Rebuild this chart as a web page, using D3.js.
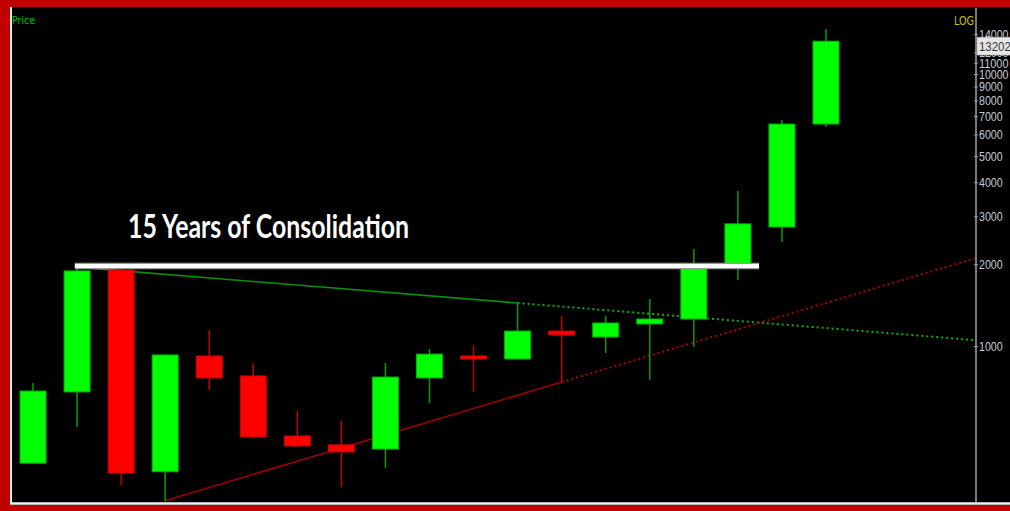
<!DOCTYPE html>
<html>
<head>
<meta charset="utf-8">
<script src="https://cdn.jsdelivr.net/npm/d3@7"></script>
<style>
  html, body { margin: 0; padding: 0; background: #000; }
  svg { display: block; }
</style>
</head>
<body>
<svg id="chart" width="1010" height="511"></svg>
<script>
// ---- data ----
const periods = [1,2,3,4,5,6,7,8,9,10,11,12,13,14,15,16,17,18,19];
const opens  = [371, 678, 1900, 345, 919, 776, 467, 433, 418, 763, 919, 896, 1135, 1079, 1205, 1257, 1985, 2738, 6547];
const highs  = [731, 1950, 1950, 935, 1145, 866, 577, 530, 866, 975, 1008, 1439, 1289, 1289, 1488, 2275, 3717, 6777, 14620];
const lows   = [371, 504, 308, 268, 689, 455, 425, 303, 356, 617, 678, 896, 737, 943, 750, 992, 1749, 2410, 6380];
const closes = [683, 1888, 341, 927, 763, 463, 429, 408, 769, 934, 896, 1135, 1098, 1215, 1257, 1967, 2812, 6547, 13202];
const tickValues = [1000, 2000, 3000, 4000, 5000, 6000, 7000, 8000, 9000, 10000, 11000, 12000, 14000];
const lastPrice = 13202;
// trend lines: [period index, price]
const consolidationLine = [[0.95, 1967], [16.48, 1967]];
const resistanceSolid = [[1, 1950], [11, 1439]];
const resistanceDotted = [[11, 1439], [21.4, 1050]];
const supportSolid = [[3, 270], [12, 737]];
const supportDotted = [[12, 737], [21.4, 2104]];
const annotation = "15 Years of Consolidation";

// ---- layout ----
const svg = d3.select("#chart");
const W = 1010, H = 511;
const plot = {left: 12, right: 976, top: 8, bottom: 502};

const x = d3.scaleLinear().domain([0, periods.length - 1]).range([33, 826]);
const y = d3.scaleLog().domain([267, 17480]).range([plot.bottom, plot.top]);

// background
svg.append("rect").attr("width", W).attr("height", H).attr("fill", "#000");

// frame: red border with white inner line
svg.append("rect").attr("x", 0).attr("y", 0).attr("width", W).attr("height", 7).attr("fill", "#c00000");
svg.append("rect").attr("x", 0).attr("y", 0).attr("width", 10).attr("height", H).attr("fill", "#c00000");
svg.append("rect").attr("x", 0).attr("y", 505).attr("width", W).attr("height", 6).attr("fill", "#c00000");
svg.append("line").attr("x1", 11).attr("x2", 11).attr("y1", 7).attr("y2", 504)
  .attr("stroke", "#f0f0f0").attr("stroke-width", 2);
svg.append("line").attr("x1", 10).attr("x2", W).attr("y1", 503.5).attr("y2", 503.5)
  .attr("stroke", "#f0f0f0").attr("stroke-width", 2.5);

svg.append("defs").append("clipPath").attr("id", "clip")
  .append("rect").attr("x", plot.left).attr("y", plot.top)
  .attr("width", plot.right - plot.left).attr("height", plot.bottom - plot.top);

const g = svg.append("g").attr("clip-path", "url(#clip)");

const candles = periods.map((p, i) => ({i, o: opens[i], h: highs[i], l: lows[i], c: closes[i]}));
const bw = 26;

// trend lines (behind candles)
const line = d3.line().x(d => x(d[0])).y(d => y(d[1]));
g.append("path").attr("d", line(resistanceSolid)).attr("fill", "none")
  .attr("stroke", "#0d8f0d").attr("stroke-width", 1.6);
g.append("path").attr("d", line(resistanceDotted)).attr("fill", "none")
  .attr("stroke", "#0db00d").attr("stroke-width", 2).attr("stroke-dasharray", "2,3");
g.append("path").attr("d", line(supportSolid)).attr("fill", "none")
  .attr("stroke", "#a00000").attr("stroke-width", 1.6);
g.append("path").attr("d", line(supportDotted)).attr("fill", "none")
  .attr("stroke", "#b00000").attr("stroke-width", 2).attr("stroke-dasharray", "2,3");

// wicks
g.selectAll("line.wick").data(candles).enter().append("line")
  .attr("class", "wick")
  .attr("x1", d => x(d.i)).attr("x2", d => x(d.i))
  .attr("y1", d => y(d.h)).attr("y2", d => y(d.l))
  .attr("stroke", d => d.c >= d.o ? "#0a9a0a" : "#c00000")
  .attr("stroke-width", 1.5);

// bodies
g.selectAll("rect.body").data(candles).enter().append("rect")
  .attr("class", "body")
  .attr("x", d => x(d.i) - bw / 2)
  .attr("width", bw)
  .attr("y", d => y(Math.max(d.o, d.c)))
  .attr("height", d => Math.max(3, Math.abs(y(d.o) - y(d.c))))
  .attr("fill", d => d.c >= d.o ? "#00ff00" : "#ff0000")
  .attr("stroke", d => d.c >= d.o ? "#00b000" : "#cc0000")
  .attr("stroke-width", 1);

// consolidation line (white, on top)
g.append("path").attr("d", line(consolidationLine)).attr("fill", "none")
  .attr("stroke", "#9a9a9a").attr("stroke-width", 6.5);
g.append("path").attr("d", line(consolidationLine)).attr("fill", "none")
  .attr("stroke", "#ffffff").attr("stroke-width", 4);

// annotation
svg.append("text").attr("x", 128).attr("y", 238)
  .attr("fill", "#ffffff")
  .attr("font-family", "Lato, 'Open Sans', sans-serif")
  .attr("font-weight", "bold")
  .attr("font-size", 32)
  .attr("textLength", 281).attr("lengthAdjust", "spacingAndGlyphs")
  .text(annotation);

// right axis
const axisG = svg.append("g").attr("transform", `translate(${plot.right},0)`);
axisG.append("line").attr("x1", 0).attr("x2", 0).attr("y1", plot.top).attr("y2", plot.bottom)
  .attr("stroke", "#7a7a7a").attr("stroke-width", 2);
const axis = d3.axisRight(y).tickValues(tickValues).tickFormat(d3.format("d")).tickSize(3).tickPadding(0);
const ax = axisG.append("g").call(axis);
ax.select(".domain").remove();
ax.selectAll(".tick line").attr("stroke", "#9a9a9a").attr("x1", -2).attr("x2", 2);
ax.selectAll(".tick text")
  .attr("fill", "#c4ccd6")
  .attr("font-family", "'Liberation Sans', Arial, sans-serif")
  .attr("font-size", 13.5)
  .attr("textLength", d => String(d).length * 5.9)
  .attr("lengthAdjust", "spacingAndGlyphs");

// last price marker box
const lp = axisG.append("g").attr("transform", `translate(1, ${y(lastPrice) + 5})`);
lp.append("rect").attr("x", 0).attr("y", -9).attr("width", 40).attr("height", 18)
  .attr("fill", "#e6e6e6").attr("stroke", "#9a9a9a").attr("stroke-dasharray", "1,1");
lp.append("text").attr("x", 2).attr("y", 5)
  .attr("fill", "#333")
  .attr("font-family", "'Liberation Sans', Arial, sans-serif")
  .attr("font-size", 13.5)
  .attr("textLength", 35).attr("lengthAdjust", "spacingAndGlyphs")
  .text(lastPrice + ".");

// header labels
svg.append("text").attr("x", 12).attr("y", 24)
  .attr("fill", "#00c000")
  .attr("font-family", "'DejaVu Sans Condensed', 'Liberation Sans', sans-serif")
  .attr("font-size", 10.5)
  .text("Price");
svg.append("text").attr("x", 954).attr("y", 25)
  .attr("fill", "#c8c800")
  .attr("font-family", "'DejaVu Sans Condensed', 'Liberation Sans', sans-serif")
  .attr("font-size", 13)
  .attr("textLength", 20).attr("lengthAdjust", "spacingAndGlyphs")
  .text("LOG");
</script>
</body>
</html>
